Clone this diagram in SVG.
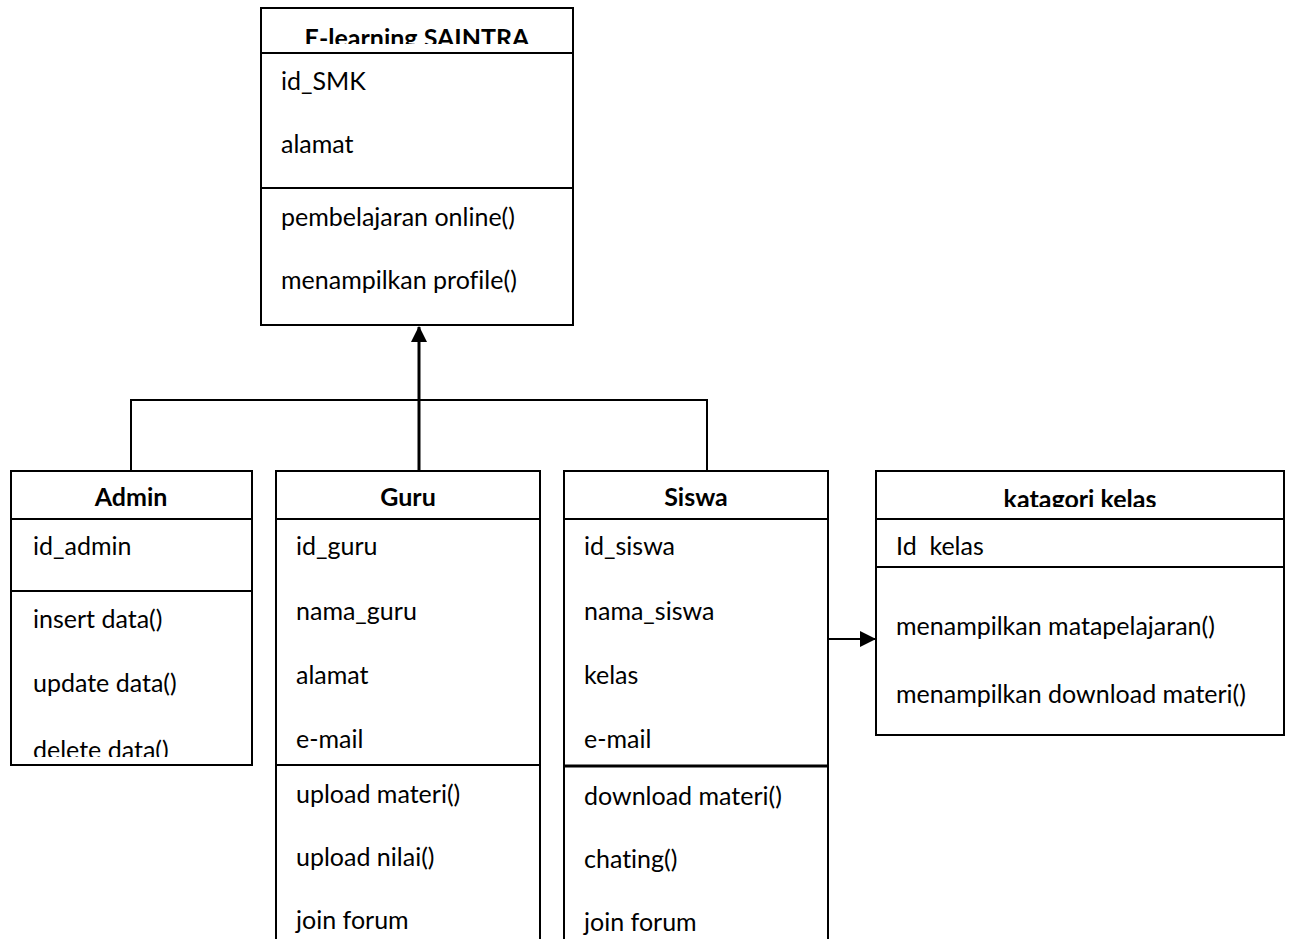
<svg xmlns="http://www.w3.org/2000/svg" width="1291" height="939" viewBox="0 0 1291 939">
<style>
.box{fill:#fff;stroke:#000;stroke-width:2}
.ln{stroke:#000;stroke-width:2;fill:none}
.t{font-family:Lato,"Liberation Sans",sans-serif;font-size:25px;fill:#000;font-variant-ligatures:none}
.h{font-family:Lato,"Liberation Sans",sans-serif;font-size:25px;font-weight:bold;fill:#000;text-anchor:middle;font-variant-ligatures:none}
</style>
<defs>
<marker id="ah" markerWidth="16" markerHeight="16" refX="15" refY="8" orient="auto" markerUnits="userSpaceOnUse">
<path d="M0,0 L16,8 L0,16 Z" fill="#000"/>
</marker>
<clipPath id="c1"><rect x="261" y="8" width="312" height="36"/></clipPath>
<clipPath id="c2"><rect x="11" y="471" width="241" height="37"/></clipPath>
<clipPath id="c3"><rect x="276" y="471" width="264" height="37"/></clipPath>
<clipPath id="c4"><rect x="564" y="471" width="264" height="37"/></clipPath>
<clipPath id="c5"><rect x="876" y="471" width="408" height="36"/></clipPath>
<clipPath id="c6"><rect x="11" y="591" width="241" height="166"/></clipPath>
</defs>
<g id="connectors">
<path class="ln" d="M131,471 V400 H707 V471"/>
<line x1="419" y1="471" x2="419" y2="327" stroke="#000" stroke-width="3" marker-end="url(#ah)"/>
<line x1="828" y1="639" x2="875" y2="639" stroke="#000" stroke-width="2" marker-end="url(#ah)"/>
</g>
<g id="elearning">
<rect class="box" x="261" y="8" width="312" height="317"/>
<line class="ln" x1="261" y1="53" x2="573" y2="53"/>
<line class="ln" x1="261" y1="188" x2="573" y2="188"/>
<text class="h" x="417" y="47" clip-path="url(#c1)">E-learning SAINTRA</text>
<text class="t" x="281" y="90">id_SMK</text>
<text class="t" x="281" y="153">alamat</text>
<text class="t" x="281" y="226">pembelajaran online()</text>
<text class="t" x="281" y="289">menampilkan profile()</text>
</g>
<g id="admin">
<rect class="box" x="11" y="471" width="241" height="294"/>
<line class="ln" x1="11" y1="519" x2="252" y2="519"/>
<line class="ln" x1="11" y1="591" x2="252" y2="591"/>
<text class="h" x="131" y="506" clip-path="url(#c2)">Admin</text>
<text class="t" x="33" y="555">id_admin</text>
<g clip-path="url(#c6)">
<text class="t" x="33" y="628">insert data()</text>
<text class="t" x="33" y="692">update data()</text>
<text class="t" x="33" y="759">delete data()</text>
</g>
</g>
<g id="guru">
<path class="ln" d="M276,940 V471 H540 V940"/>
<line class="ln" x1="276" y1="519" x2="540" y2="519"/>
<line class="ln" x1="276" y1="765" x2="540" y2="765"/>
<text class="h" x="408" y="506" clip-path="url(#c3)">Guru</text>
<text class="t" x="296" y="555">id_guru</text>
<text class="t" x="296" y="620">nama_guru</text>
<text class="t" x="296" y="684">alamat</text>
<text class="t" x="296" y="748">e-mail</text>
<text class="t" x="296" y="803">upload materi()</text>
<text class="t" x="296" y="866">upload nilai()</text>
<text class="t" x="296" y="929">join forum</text>
</g>
<g id="siswa">
<path class="ln" d="M564,940 V471 H828 V940"/>
<line class="ln" x1="564" y1="519" x2="828" y2="519"/>
<line x1="564" y1="766" x2="828" y2="766" stroke="#000" stroke-width="3"/>
<text class="h" x="696" y="506" clip-path="url(#c4)">Siswa</text>
<text class="t" x="584" y="555">id_siswa</text>
<text class="t" x="584" y="620">nama_siswa</text>
<text class="t" x="584" y="684">kelas</text>
<text class="t" x="584" y="748">e-mail</text>
<text class="t" x="584" y="805">download materi()</text>
<text class="t" x="584" y="868">chating()</text>
<text class="t" x="584" y="931">join forum</text>
</g>
<g id="katagori">
<rect class="box" x="876" y="471" width="408" height="264"/>
<line class="ln" x1="876" y1="519" x2="1284" y2="519"/>
<line class="ln" x1="876" y1="567" x2="1284" y2="567"/>
<text class="h" x="1080" y="508" clip-path="url(#c5)">katagori kelas</text>
<text class="t" x="896" y="555" xml:space="preserve">Id  kelas</text>
<text class="t" x="896" y="635">menampilkan matapelajaran()</text>
<text class="t" x="896" y="703">menampilkan download materi()</text>
</g>
</svg>
